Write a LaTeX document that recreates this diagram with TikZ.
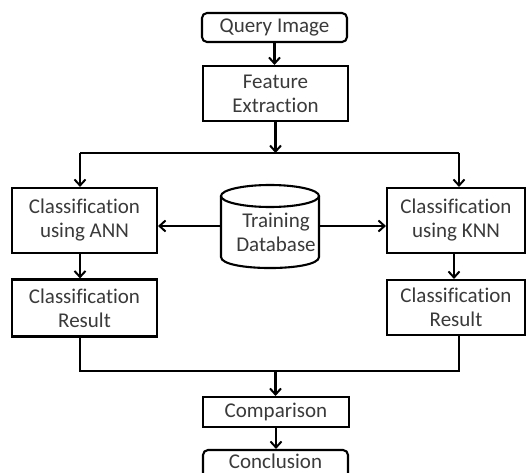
\documentclass[tikz,border=0pt]{standalone}
\usepackage{fontspec}
\setmainfont{Carlito}[Ligatures={NoCommon}]
\usetikzlibrary{arrows.meta}
\definecolor{txt}{HTML}{3A3A3A}
\tikzset{
  box/.style={draw=black, line width=2.1pt, fill=white, text=txt, align=center,
    inner sep=0pt, font=\fontsize{21}{24}\selectfont},
  rbox/.style={box, rounded corners=5pt},
  conn/.style={line width=2.1pt, draw=black},
  arr/.style={conn, -{Straight Barb[length=6pt,width=11pt,line width=2pt]}},
}
\begin{document}
\begin{tikzpicture}[x=1pt,y=-1pt]
\useasboundingbox (0,0) rectangle (527,473);
\clip (0,0) rectangle (527,473);
\node[rbox, minimum width=145pt, minimum height=29pt] (q) at (274.5,27.5) {Query Image};
\node[box, minimum width=145pt, minimum height=55pt] (fe) at (275.5,93.5) {Feature\\Extraction};
\node[box, minimum width=145pt, minimum height=65pt] (ann) at (84.5,220.5) {Classification\\using ANN};
\node[box, minimum width=145pt, minimum height=57pt] (annr) at (84.5,308) {Classification\\Result};
\node[box, minimum width=138pt, minimum height=65pt] (knn) at (456,220.5) {Classification\\using KNN};
\node[box, minimum width=138pt, minimum height=55pt] (knnr) at (456,307.5) {Classification\\Result};
\node[box, minimum width=146pt, minimum height=30pt] (cmp) at (276,412) {Comparison};
\node[rbox, minimum width=145pt, minimum height=44pt] (con) at (275.5,472) {};
\node[text=txt, font=\fontsize{21}{24}\selectfont, inner sep=0pt] (contxt) at (275.5,461) {Conclusion};
% cylinder
\draw[conn, fill=white] (221,196) -- (221,257) .. controls (221,271.7) and (319,271.7) .. (319,257) -- (319,196);
\draw[conn] (270,196) ellipse [x radius=49, y radius=11];
\node[text=txt, align=center, inner sep=0pt, font=\fontsize{21}{24}\selectfont] (db) at (276,232) {Training\\Database};
\coordinate (dbw) at (221,226);
\coordinate (dbe) at (319,226);
% connectors
\coordinate (split) at (275.5,153);
\coordinate (sl) at (80,153);
\coordinate (sr) at (459,153);
\draw[arr] (q.south) -- (q.south |- fe.north);
\draw[arr] (fe.south) -- (split);
\draw[conn] (sl) -- (sr);
\draw[arr] (sl) -- (sl |- ann.north);
\draw[arr] (sr) -- (sr |- knn.north);
\draw[arr] (ann.south -| sl) -- (annr.north -| sl);
\draw[arr] (knn.south -| 454,0) -- (knnr.north -| 454,0);
\draw[arr] (dbw) -- (dbw -| ann.east);
\draw[arr] (dbe) -- (dbe -| knn.west);
\coordinate (jl) at (80,371);
\coordinate (jr) at (459,371);
\coordinate (jm) at (275.5,371);
\draw[conn] (annr.south -| jl) -- (jl) -- (jr) -- (knnr.south -| jr);
\draw[arr] (jm) -- (jm |- cmp.north);
\draw[arr] (cmp.south) -- (cmp.south |- con.north);
\end{tikzpicture}
\end{document}
